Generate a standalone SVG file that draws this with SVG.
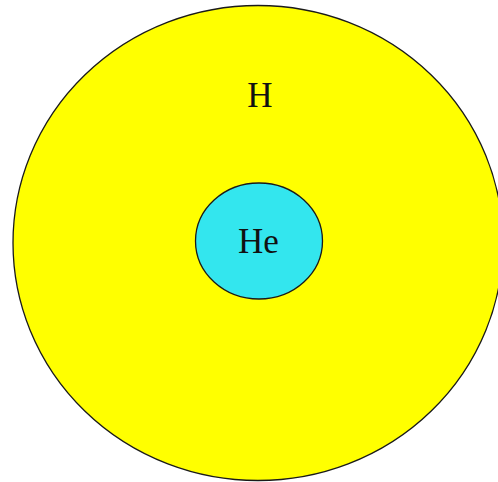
<svg xmlns="http://www.w3.org/2000/svg" width="498" height="482" viewBox="0 0 498 482">
<style>
.lbl{font-family:"Liberation Serif","Times New Roman",serif;font-size:35px;fill:#111;text-anchor:middle}
.ring{stroke:#1a1a1a;stroke-width:1.3}
</style>
<rect width="498" height="482" fill="#ffffff"/>
<g id="hydrogen">
<ellipse class="ring" cx="258" cy="243" rx="245" ry="237.5" fill="#ffff00"/>
<text class="lbl" x="260" y="107">H</text>
</g>
<g id="helium">
<ellipse class="ring" cx="259" cy="241" rx="63.5" ry="58" fill="#33e6ee" stroke="#0b3a2a"/>
<text class="lbl" x="258.5" y="253" fill="#0d2a3a">He</text>
</g>
<g id="connectors"/>
</svg>
